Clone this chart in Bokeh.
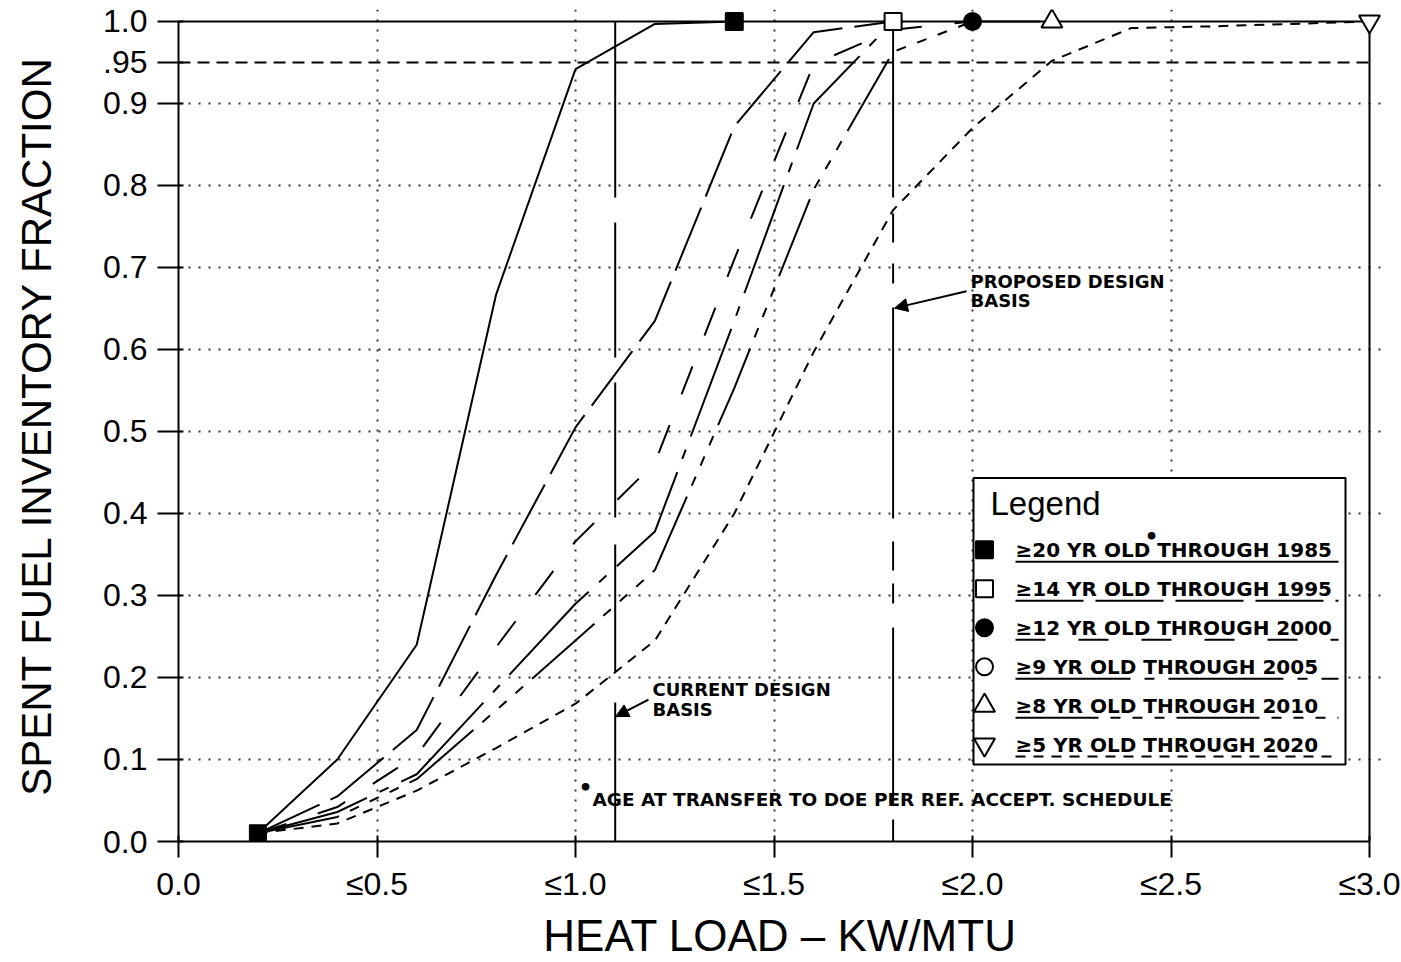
from bokeh.plotting import figure
from bokeh.models import FixedTicker, Label, Arrow, NormalHead, Range1d
from bokeh.embed import file_html
from bokeh.resources import INLINE

# ---------------- data ----------------
heat_20 = [0.2, 0.4, 0.6, 0.8, 1.0, 1.2, 1.4]
frac_20 = [0.010, 0.100, 0.240, 0.667, 0.942, 0.997, 1.000]

heat_14 = [0.2, 0.4, 0.6, 0.8, 1.0, 1.2, 1.4, 1.6, 1.8]
frac_14 = [0.010, 0.055, 0.136, 0.325, 0.505, 0.635, 0.872, 0.987, 1.000]

heat_12 = [0.2, 0.4, 0.6, 0.8, 1.0, 1.2, 1.4, 1.6, 1.8, 2.0]
frac_12 = [0.010, 0.042, 0.105, 0.237, 0.366, 0.462, 0.710, 0.948, 0.990, 1.000]

heat_9 = [0.2, 0.4, 0.6, 0.8, 1.0, 1.2, 1.4, 1.6, 1.8]
frac_9 = [0.010, 0.036, 0.082, 0.186, 0.290, 0.378, 0.635, 0.900, 1.000]

heat_8 = [0.2, 0.4, 0.6, 0.8, 1.0, 1.2, 1.4, 1.6, 1.8, 2.0, 2.2]
frac_8 = [0.010, 0.030, 0.076, 0.160, 0.245, 0.331, 0.553, 0.795, 0.963, 1.000, 1.000]

heat_5 = [0.2, 0.4, 0.6, 0.8, 1.0, 1.2, 1.4, 1.6, 1.8, 2.0, 2.2, 2.4, 2.6, 2.8, 3.0]
frac_5 = [0.010, 0.022, 0.062, 0.114, 0.168, 0.245, 0.400, 0.597, 0.770, 0.870,
          0.952, 0.992, 0.994, 0.997, 1.000]

series_labels = [
    "\u226520 YR OLD  THROUGH 1985",
    "\u226514 YR OLD THROUGH 1995",
    "\u226512 YR OLD THROUGH 2000",
    "\u22659 YR OLD THROUGH 2005",
    "\u22658 YR OLD THROUGH 2010",
    "\u22655 YR OLD THROUGH 2020",
]

x_ticks = [0.0, 0.5, 1.0, 1.5, 2.0, 2.5, 3.0]
x_tick_labels = ["0.0", "\u22640.5", "\u22641.0", "\u22641.5", "\u22642.0", "\u22642.5", "\u22643.0"]
y_ticks = [0.0, 0.1, 0.2, 0.3, 0.4, 0.5, 0.6, 0.7, 0.8, 0.9, 0.95, 1.0]
y_tick_labels = ["0.0", "0.1", "0.2", "0.3", "0.4", "0.5", "0.6", "0.7", "0.8", "0.9", ".95", "1.0"]
x_grid_ticks = [0.5, 1.0, 1.5, 2.0, 2.5]
y_grid_ticks = [0.1, 0.2, 0.3, 0.4, 0.5, 0.6, 0.7, 0.8, 0.9]

x_extent = [0.0, 3.0]
y_extent = [0.0, 1.0]
ref_fraction = 0.95
current_basis = 1.1
proposed_basis = 1.8

# ---------------- styles ----------------
styles = [
    dict(dash="solid", marker="square", fill="black", size=17),
    dict(dash="68 12", marker="square", fill="white", size=17),
    dict(dash="30 33", marker="circle", fill="black", size=17),
    dict(dash="115 14 10 14", marker="circle", fill="white", size=17),
    dict(dash="83 12 10 12 10 12 10 12", marker="triangle", fill="white", size=21),
    dict(dash="10 8", marker="inverted_triangle", fill="white", size=21),
]
series = list(zip([heat_20, heat_14, heat_12, heat_9, heat_8, heat_5],
                  [frac_20, frac_14, frac_12, frac_9, frac_8, frac_5]))

# ---------------- geometry ----------------
W, H = 1401, 962
PX0, PX_PER = 178.0, 397.0
PY0, PY_PER = 842.0, 821.0
PAD = 12
X_END = x_extent[1] + PAD / PX_PER
Y_END = y_extent[1] + PAD / PY_PER


def dx(px):
    return (px - PX0) / PX_PER


def dy(py):
    return (PY0 - py) / PY_PER


p = figure(width=W, height=H,
           x_range=Range1d(0, X_END), y_range=Range1d(0, Y_END),
           output_backend="svg", toolbar_location=None,
           min_border_left=int(PX0), min_border_right=W - int(PX0 + PX_PER * X_END + 0.5),
           min_border_top=int(PY0 - PY_PER * Y_END + 0.5), min_border_bottom=H - int(PY0))
p.outline_line_color = None
p.background_fill_color = "white"
p.border_fill_color = "white"

TICK_FONT = "Liberation Sans"
LABEL_FONT = "Liberation Sans"
NOTE_FONT = "DejaVu Sans"

for ax in (p.xaxis[0], p.yaxis[0]):
    ax.axis_line_width = 2
    ax.axis_line_color = "black"
    ax.major_tick_line_width = 2
    ax.major_tick_line_color = "black"
    ax.minor_tick_line_color = None
    ax.major_label_text_font = TICK_FONT
    ax.major_label_text_font_size = "32px"
    ax.major_label_text_color = "black"
    ax.axis_label_text_font = LABEL_FONT
    ax.axis_label_text_font_style = "normal"
    ax.axis_label_text_color = "black"

p.xaxis.ticker = FixedTicker(ticks=x_ticks)
p.xaxis.major_label_overrides = dict(zip(x_ticks, x_tick_labels))
p.xaxis.bounds = tuple(x_extent)
p.xaxis.major_tick_out = 16
p.xaxis.major_tick_in = 6
p.xaxis.major_label_standoff = 8
p.xaxis.axis_label = "HEAT LOAD \u2013 KW/MTU"
p.xaxis.axis_label_text_font_size = "44px"
p.xaxis.axis_label_standoff = 6

p.yaxis.ticker = FixedTicker(ticks=y_ticks)
p.yaxis.major_label_overrides = dict(zip(y_ticks, y_tick_labels))
p.yaxis.bounds = tuple(y_extent)
p.yaxis.major_tick_out = 21
p.yaxis.major_tick_in = 5
p.yaxis.major_label_standoff = 10
p.yaxis.axis_label = "SPENT FUEL INVENTORY FRACTION"
p.yaxis.axis_label_text_font_size = "42px"
p.yaxis.axis_label_standoff = 40

p.xgrid.ticker = FixedTicker(ticks=x_grid_ticks)
p.ygrid.ticker = FixedTicker(ticks=y_grid_ticks)
p.xgrid.bounds = tuple(y_extent)
p.ygrid.bounds = tuple(x_extent)
for g in (p.xgrid[0], p.ygrid[0]):
    g.grid_line_color = "black"
    g.grid_line_dash = "2 8"
    g.grid_line_width = 2
    g.grid_line_alpha = 0.8

# frame (top and right) lines
p.line(x=[x_extent[0], x_extent[1], x_extent[1]], y=[y_extent[1], y_extent[1], y_extent[0]],
       line_color="black", line_width=2)

# .95 reference line
p.line(x=x_extent, y=[ref_fraction, ref_fraction], line_color="black", line_width=2,
       line_dash="12 7")

# design basis lines
p.line(x=[current_basis, current_basis], y=[y_extent[1], y_extent[0]], line_color="black",
       line_width=2, line_dash="176 25 135 25 135 27 127 31 220")
p.line(x=[proposed_basis, proposed_basis], y=[y_extent[1], y_extent[0]], line_color="black",
       line_width=2, line_dash="176 16 29 21 20 24 211 23 29 13 20 24")

# curves
for (xs, ys), st in zip(series, styles):
    p.line(x=xs, y=ys, line_color="black", line_width=2, line_dash=st["dash"])

# start marker (first point of the >=20 series)
p.scatter(x=[heat_20[0]], y=[frac_20[0]], marker="square", size=17,
          fill_color="black", line_color="black")

# end markers; the >=9 circle drawn first (it sits below the >=14 square)
order = [3, 0, 1, 2, 4, 5]
for i in order:
    xs, ys = series[i]
    st = styles[i]
    p.scatter(x=[xs[-1]], y=[ys[-1]], marker=st["marker"], size=st["size"],
              fill_color=st["fill"], line_color="black", line_width=2)


# ---------------- text helper ----------------
def text_at(px, py_mid, text, size, font=None, bold=True, align="left"):
    p.add_layout(Label(x=dx(px), y=dy(py_mid), text=text, text_font=font or NOTE_FONT,
                       text_font_style="bold" if bold else "normal", text_font_size=size,
                       text_color="black", text_baseline="middle", text_align=align))


# ---------------- legend (drawn by hand) ----------------
p.quad(left=dx(973), right=dx(1345), top=dy(478), bottom=dy(765),
       fill_color="white", line_color="black", line_width=2)
text_at(990, 504, "Legend", "33px", font=TICK_FONT, bold=False)
for i, (lab, st) in enumerate(zip(series_labels, styles)):
    base = 558 + 39 * i
    p.scatter(x=[dx(984)], y=[dy(base - 8)], marker=st["marker"],
              size=st["size"], fill_color=st["fill"], line_color="black", line_width=2)
    p.line(x=[dx(1015), dx(1338)], y=[dy(base + 4), dy(base + 4)], line_color="black",
           line_width=2, line_dash=st["dash"])
    text_at(1015, base - 7.5, lab, "20px")
text_at(1151, 537, "\u2022", "22px", align="center")

# ---------------- annotations ----------------
text_at(970, 281, "PROPOSED DESIGN", "18px")
text_at(970, 300, "BASIS", "18px")
text_at(652, 690, "CURRENT DESIGN", "18px")
text_at(652, 710, "BASIS", "18px")
text_at(592, 800, "AGE AT TRANSFER TO DOE PER REF. ACCEPT. SCHEDULE", "18.5px")
text_at(585, 788, "\u2022", "22px", align="center")

p.add_layout(Arrow(end=NormalHead(size=13, fill_color="black", line_color="black"),
                   x_start=dx(966), y_start=dy(291), x_end=dx(894), y_end=dy(308),
                   line_width=2, line_color="black"))
p.add_layout(Arrow(end=NormalHead(size=13, fill_color="black", line_color="black"),
                   x_start=dx(648), y_start=dy(700), x_end=dx(615), y_end=dy(717),
                   line_width=2, line_color="black"))

open("out.html", "w").write(file_html(p, INLINE))
